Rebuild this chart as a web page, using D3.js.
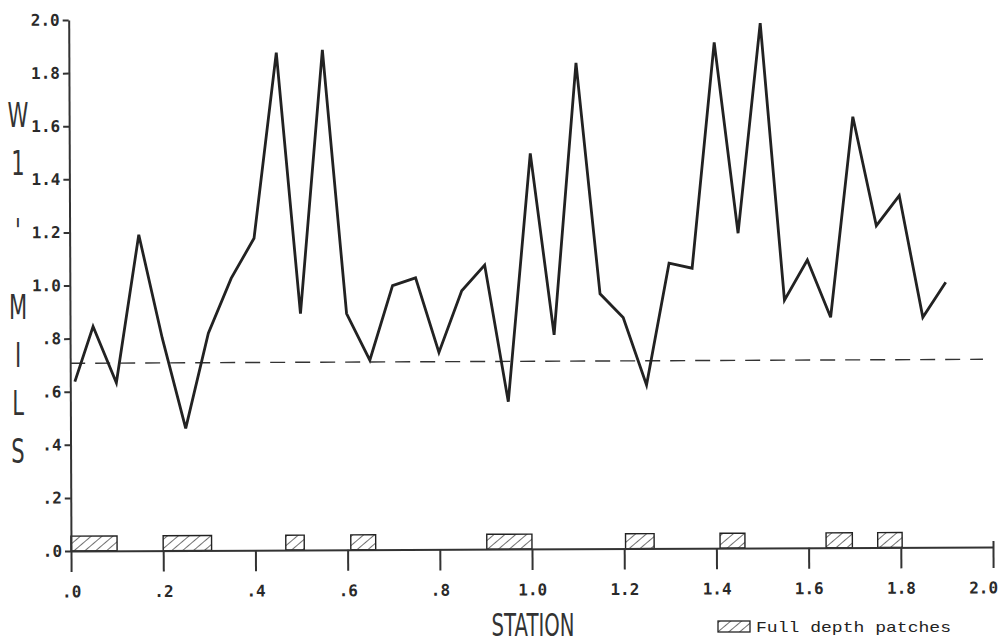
<!DOCTYPE html>
<html lang="en">
<head>
    <meta charset="UTF-8">
    <title>W1 mils by station</title>
    <script src="https://d3js.org/d3.v7.min.js"></script>
    <style>
        body {margin: 0; background: white;}
        .tick text {
            font-family: "DejaVu Sans Mono", monospace;
            font-weight: bold;
            fill: #2a2a2a;
        }
    </style>
</head>
<body>
<script>
    const width = 998;
    const height = 644;

    // measured values
    const stations = [0.01, 0.05, 0.10, 0.15, 0.20, 0.25, 0.30, 0.35, 0.40, 0.45,
        0.50, 0.55, 0.60, 0.65, 0.70, 0.75, 0.80, 0.85, 0.90, 0.95,
        1.00, 1.05, 1.10, 1.15, 1.20, 1.25, 1.30, 1.35, 1.40, 1.45,
        1.50, 1.55, 1.60, 1.65, 1.70, 1.75, 1.80, 1.85, 1.90];
    const w1Mils = [0.638, 0.845, 0.633, 1.19, 0.80, 0.46, 0.818, 1.024, 1.175, 1.874,
        0.89, 1.883, 0.89, 0.714, 0.994, 1.023, 0.742, 0.974, 1.07, 0.555,
        1.49, 0.806, 1.83, 0.96, 0.87, 0.616, 1.074, 1.055, 1.905, 1.186,
        1.977, 0.933, 1.084, 0.868, 1.623, 1.212, 1.325, 0.866, 0.998];
    const meanLevel = 0.707;
    const meanEnd = 1.98;
    const patchStart = [0.0, 0.20, 0.466, 0.607, 0.902, 1.203, 1.408, 1.638, 1.750];
    const patchEnd = [0.10, 0.305, 0.506, 0.661, 1.0, 1.265, 1.462, 1.695, 1.803];
    const patchHeight = 0.056;
    const xTicks = [0, 0.2, 0.4, 0.6, 0.8, 1.0, 1.2, 1.4, 1.6, 1.8, 2.0];
    const yTicks = [0, 0.2, 0.4, 0.6, 0.8, 1.0, 1.2, 1.4, 1.6, 1.8, 2.0];
    const yTitle = ["W", "1", "'", " ", "M", "I", "L", "S"];

    const ink = "#222";
    const svg = d3.select("body").append("svg")
            .attr("width", width).attr("height", height);

    const x = d3.scaleLinear().domain([0, 2]).range([71, 993]);
    const y = d3.scaleLinear().domain([0, 2]).range([551, 20]);
    const fmt = d => d3.format(".1f")(d).replace(/^0/, "");

    // hatch for the patches
    svg.append("defs").append("pattern")
            .attr("id", "hatch")
            .attr("patternUnits", "userSpaceOnUse")
            .attr("width", 7).attr("height", 7)
            .attr("patternTransform", "rotate(50)")
            .append("line")
            .attr("x1", 0).attr("y1", 0).attr("x2", 0).attr("y2", 7)
            .style("stroke", ink).style("stroke-width", 1.3);

    // the scanned sheet sits a little skewed
    const plot = svg.append("g").attr("transform", "rotate(-0.25, 71, 551)");

    plot.append("line")
            .attr("x1", x(0)).attr("x2", x(meanEnd))
            .attr("y1", y(meanLevel)).attr("y2", y(meanLevel))
            .style("stroke", "#333").style("stroke-width", 1.4)
            .style("stroke-dasharray", "15 10");

    plot.selectAll("rect.patch")
            .data(patchStart)
            .enter()
            .append("rect")
            .attr("class", "patch")
            .attr("x", d => x(d))
            .attr("width", (d, i) => x(patchEnd[i]) - x(d))
            .attr("y", y(patchHeight))
            .attr("height", y(0) - y(patchHeight))
            .style("fill", "url(#hatch)")
            .style("stroke", ink).style("stroke-width", 1.4);

    const xAxis = plot.append("g")
            .attr("transform", `translate(0,${y(0)})`)
            .call(d3.axisBottom(x).tickValues(xTicks).tickFormat(fmt)
                    .tickSize(21).tickSizeOuter(0).tickPadding(14));
    xAxis.selectAll(".tick text").style("font-size", "16px");
    xAxis.select(".tick:last-of-type line").attr("y1", -6);
    xAxis.select(".tick:last-of-type text").attr("dx", -10);

    const yAxis = plot.append("g")
            .attr("transform", `translate(${x(0)},0)`)
            .call(d3.axisLeft(y).tickValues(yTicks).tickFormat(fmt)
                    .tickSize(6).tickSizeOuter(0).tickPadding(3));
    yAxis.selectAll(".tick text").style("font-size", "16px");

    plot.selectAll(".domain, .tick line")
            .style("stroke", "#333").style("stroke-width", 2);

    const line = d3.line()
            .x((d, i) => x(stations[i]))
            .y(d => y(d));
    plot.append("path")
            .datum(w1Mils)
            .attr("d", line)
            .style("fill", "none")
            .style("stroke", ink)
            .style("stroke-width", 2.8)
            .style("stroke-linejoin", "miter");

    // titles
    svg.append("g").selectAll("text")
            .data(yTitle)
            .enter()
            .append("text")
            .attr("transform", (d, i) =>
                    `translate(18,${127 + i * 48 + (d === "'" ? 20 : 0)}) scale(0.62,1)`)
            .attr("text-anchor", "middle")
            .style("font-family", "'DejaVu Sans', sans-serif")
            .style("font-size", "34px")
            .style("fill", "#333")
            .text(d => d);

    svg.append("text")
            .attr("transform", "translate(533,636) scale(0.68,1.1)")
            .attr("text-anchor", "middle")
            .style("font-family", "'DejaVu Sans', sans-serif")
            .style("font-size", "29px")
            .style("fill", "#333")
            .text("STATION");

    // legend
    svg.append("rect")
            .attr("x", 718).attr("y", 621)
            .attr("width", 32).attr("height", 11)
            .style("fill", "url(#hatch)")
            .style("stroke", ink).style("stroke-width", 1.3);
    svg.append("text")
            .attr("x", 756).attr("y", 632)
            .attr("textLength", 195)
            .attr("lengthAdjust", "spacingAndGlyphs")
            .style("font-family", "'Liberation Mono', monospace")
            .style("font-size", "15px")
            .style("fill", "#222")
            .text("Full depth patches");
</script>

</body>
</html>
